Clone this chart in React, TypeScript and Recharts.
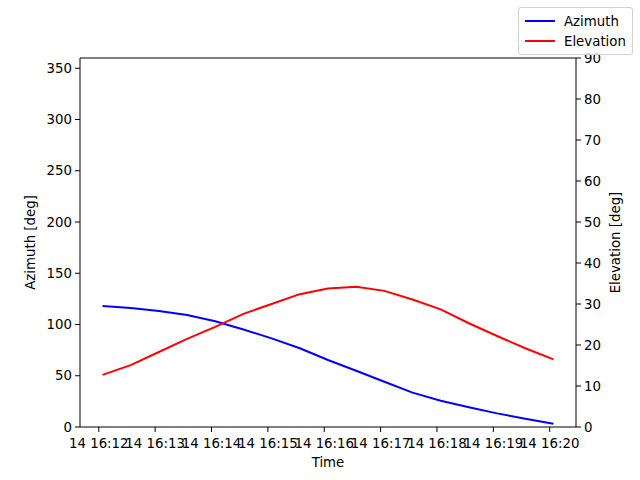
import React from 'react';
import {
  LineChart,
  Line,
  XAxis,
  YAxis,
  Legend,
  ReferenceLine,
} from 'recharts';

// seconds after 16:12:00
const times = [4, 34, 64, 94, 124, 154, 184, 214, 244, 274, 304, 334, 364, 394, 424, 454, 484];
const azimuth = [118.0, 116.1, 113.2, 109.3, 103.1, 95.1, 86.5, 76.8, 65.4, 54.9, 44.2, 33.5, 25.7, 19.2, 13.3, 8.1, 3.2];
const elevation = [12.7, 15.1, 18.3, 21.5, 24.4, 27.6, 30.0, 32.4, 33.8, 34.2, 33.2, 31.1, 28.7, 25.3, 22.2, 19.2, 16.5];

const timeTicks = [0, 60, 120, 180, 240, 300, 360, 420, 480];
const timeLabels = ['14 16:12', '14 16:13', '14 16:14', '14 16:15', '14 16:16', '14 16:17', '14 16:18', '14 16:19', '14 16:20'];
const azTicks = [0, 50, 100, 150, 200, 250, 300, 350];
const elTicks = [0, 10, 20, 30, 40, 50, 60, 70, 80, 90];

const data = times.map((t, i) => ({ t, az: azimuth[i], el: elevation[i] }));

const FONT = '"DejaVu Sans", sans-serif';
const tickStyle = { fontSize: 13.33, fill: '#000', fontFamily: FONT };

function LegendBox({ payload }: any) {
  return (
    <div
      style={{
        border: '1px solid #d0d0d0',
        borderRadius: 3,
        background: 'rgba(255,255,255,0.8)',
        padding: '3px 6px 3px 6px',
        fontFamily: FONT,
        fontSize: 13.33,
        color: '#000',
      }}
    >
      {(payload || []).map((p: any) => (
        <div key={p.value} style={{ display: 'flex', alignItems: 'center', height: 20 }}>
          <span style={{ display: 'inline-block', width: 30, height: 2, background: p.color, marginRight: 9 }} />
          <span>{p.value}</span>
        </div>
      ))}
    </div>
  );
}

function RotatedLabel({ viewBox, value, dx }: any) {
  const cx = viewBox.x + dx;
  const cy = viewBox.y + viewBox.height / 2;
  return (
    <text
      x={cx}
      y={cy}
      transform={`rotate(-90 ${cx} ${cy})`}
      textAnchor="middle"
      dominantBaseline="central"
      fontSize={13.33}
      fontFamily={FONT}
      fill="#000"
    >
      {value}
    </text>
  );
}

export default function App() {
  return (
    <div style={{ position: 'absolute', left: 0, top: 0, width: 640, height: 480, background: '#fff', fontFamily: FONT }}>
      <LineChart width={640} height={480} data={data} margin={{ top: 58, right: 0, bottom: 0, left: 0 }}>
        <XAxis
          dataKey="t"
          type="number"
          domain={[-20, 508]}
          allowDataOverflow
          ticks={timeTicks}
          interval={0}
          tickFormatter={(v: number) => timeLabels[Math.round(v / 60)]}
          height={53}
          tick={tickStyle}
          tickSize={5}
          tickMargin={7}
          stroke="#000"
          tickLine={{ stroke: '#000' }}
          label={{ value: 'Time', position: 'insideBottom', offset: 13, fontSize: 13.33, fill: '#000', fontFamily: FONT }}
        />
        <YAxis
          yAxisId="left"
          domain={[0, 360]}
          ticks={azTicks}
          interval={0}
          width={80}
          tick={tickStyle}
          tickSize={5}
          tickMargin={3}
          stroke="#000"
          tickLine={{ stroke: '#000' }}
          label={<RotatedLabel value="Azimuth [deg]" dx={30} />}
        />
        <YAxis
          yAxisId="right"
          orientation="right"
          domain={[0, 90]}
          ticks={elTicks}
          interval={0}
          width={64}
          tick={tickStyle}
          tickSize={5}
          tickMargin={3}
          stroke="#000"
          tickLine={{ stroke: '#000' }}
          label={<RotatedLabel value="Elevation [deg]" dx={39} />}
        />
        <ReferenceLine yAxisId="left" y={360} stroke="#000" />
        <Legend
          layout="vertical"
          align="center"
          verticalAlign="middle"
          content={<LegendBox />}
          wrapperStyle={{ position: 'absolute', top: 7, left: 518, width: 'auto' }}
        />
        <Line
          yAxisId="left"
          type="linear"
          dataKey="az"
          name="Azimuth"
          stroke="#0000ff"
          strokeWidth={2}
          dot={false}
          isAnimationActive={false}
        />
        <Line
          yAxisId="right"
          type="linear"
          dataKey="el"
          name="Elevation"
          stroke="#ff0000"
          strokeWidth={2}
          dot={false}
          isAnimationActive={false}
        />
      </LineChart>
    </div>
  );
}
